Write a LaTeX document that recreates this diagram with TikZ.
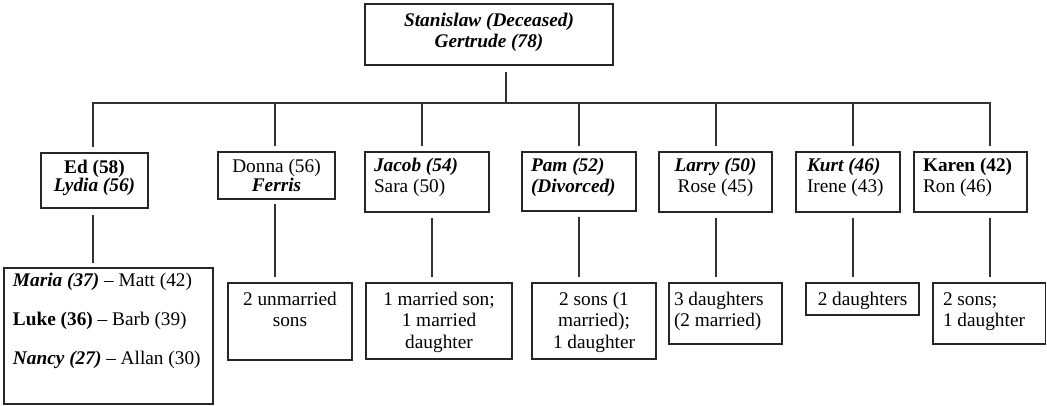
\documentclass[tikz,border=0pt]{standalone}
\usepackage{fontspec}
\setmainfont{Liberation Serif}
\newcommand\bi[1]{\textbf{\textit{#1}}}
% #1 width, #2 height, #3 first baseline offset, #4 line pitch, #5 alignment, #6 text
\newcommand\boxtext[6]{\begin{minipage}[c][#2pt][t]{#1pt}\fontsize{19.3pt}{#4pt}\selectfont#5\rule{0pt}{#3pt}#6\par\end{minipage}}
\newcommand\Lft[1]{\raggedright\leftskip=#1pt\relax}
\tikzset{
  fbox/.style={draw=black!85, line width=1.2pt, inner sep=0pt, outer sep=0pt, anchor=north west},
  conn/.style={draw=black!80, line width=1.2pt}
}
\begin{document}
\begin{tikzpicture}[x=1pt,y=-1pt]
\useasboundingbox (0,0) rectangle (1047,406);
% parents
\node[fbox] (top) at (365,4) {\boxtext{248}{61}{22.7}{21.3}{\centering}{\bi{Stanislaw (Deceased)}\\\bi{Gertrude (78)}}};
% children
\node[fbox] (ed) at (41,153) {\boxtext{107}{55}{21}{18}{\centering}{\textbf{Ed (58)}\\\bi{Lydia (56)}}};
\node[fbox] (donna) at (218,152) {\boxtext{117}{47}{21}{19}{\centering}{Donna (56)\\\bi{Ferris}}};
\node[fbox] (jacob) at (365,152) {\boxtext{124}{60}{20}{21}{\Lft{9}}{\bi{Jacob (54)}\\Sara (50)}};
\node[fbox] (pam) at (522,152) {\boxtext{114}{59}{20}{21}{\Lft{9}}{\bi{Pam (52)}\\\bi{(Divorced)}}};
\node[fbox] (larry) at (659,152) {\boxtext{113}{60}{20}{21}{\centering}{\bi{Larry (50)}\\Rose (45)}};
\node[fbox] (kurt) at (796,152) {\boxtext{104}{60}{20}{21}{\Lft{11}}{\bi{Kurt (46)}\\Irene (43)}};
\node[fbox] (karen) at (914,152) {\boxtext{113}{60}{20}{21}{\Lft{9}}{\textbf{Karen (42)}\\Ron (46)}};
% grandchildren
\node[fbox] (ced) at (4,268) {\boxtext{209}{136}{18}{39}{\Lft{9}}{\bi{Maria (37)} -- Matt (42)\\\textbf{Luke (36)} -- Barb (39)\\\bi{Nancy (27)} -- Allan (30)}};
\node[fbox] (cdonna) at (228,283) {\boxtext{124}{77}{22}{21.5}{\centering}{2 unmarried\\sons}};
\node[fbox] (cjacob) at (366,283) {\boxtext{146}{76}{22}{21.5}{\centering}{1 married son;\\1 married\\daughter}};
\node[fbox] (cpam) at (532,283) {\boxtext{124}{76}{22}{21.5}{\centering}{2 sons (1\\married);\\1 daughter}};
\node[fbox] (clarry) at (669,283) {\boxtext{113}{61}{22}{21.5}{\Lft{5}}{3 daughters\\(2 married)}};
\node[fbox] (ckurt) at (806,283) {\boxtext{113}{32}{22}{21.5}{\centering}{2 daughters}};
\node[fbox] (ckaren) at (933,283) {\boxtext{112.5}{61}{22}{21.5}{\Lft{10}}{2 sons;\\1 daughter}};
% junction coordinates
\coordinate (jt) at (506,103);
\coordinate (xEd) at (93,0);
\coordinate (xDonna) at (275,0);
\coordinate (xJacobA) at (422,0);
\coordinate (xJacobB) at (432,0);
\coordinate (xPam) at (579,0);
\coordinate (xLarry) at (716,0);
\coordinate (xKurt) at (853,0);
\coordinate (xKaren) at (990,0);
% connectors
\draw[conn, shorten <=7pt] (jt |- top.south) -- (jt);
\draw[conn, shorten <=5.5pt, shorten >=5.5pt] (xEd |- ed.north) |- (jt) -| (xKaren |- karen.north);
\draw[conn, shorten >=5.5pt] (xDonna |- jt) -- (xDonna |- donna.north);
\draw[conn, shorten >=5.5pt] (xJacobA |- jt) -- (xJacobA |- jacob.north);
\draw[conn, shorten >=5.5pt] (xPam |- jt) -- (xPam |- pam.north);
\draw[conn, shorten >=5.5pt] (xLarry |- jt) -- (xLarry |- larry.north);
\draw[conn, shorten >=5.5pt] (xKurt |- jt) -- (xKurt |- kurt.north);
\draw[conn, shorten <=7pt, shorten >=5pt] (xEd |- ed.south) -- (xEd |- ced.north);
\draw[conn, shorten <=5pt, shorten >=6pt] (xDonna |- donna.south) -- (xDonna |- cdonna.north);
\draw[conn, shorten <=6pt, shorten >=6pt] (xJacobB |- jacob.south) -- (xJacobB |- cjacob.north);
\draw[conn, shorten <=6pt, shorten >=6pt] (xPam |- pam.south) -- (xPam |- cpam.north);
\draw[conn, shorten <=6pt, shorten >=6pt] (xLarry |- larry.south) -- (xLarry |- clarry.north);
\draw[conn, shorten <=6pt, shorten >=6pt] (xKurt |- kurt.south) -- (xKurt |- ckurt.north);
\draw[conn, shorten <=6pt, shorten >=6pt] (xKaren |- karen.south) -- (xKaren |- ckaren.north);
\end{tikzpicture}
\end{document}
